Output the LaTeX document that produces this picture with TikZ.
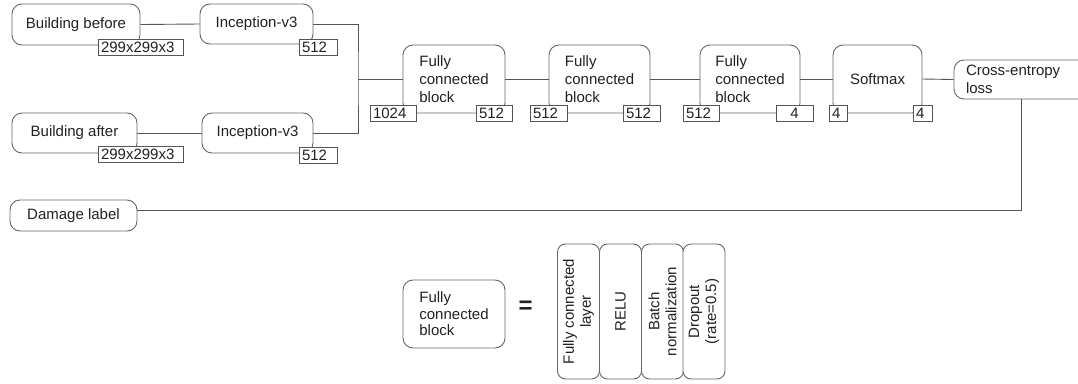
\documentclass[tikz,border=0pt]{standalone}
\usepackage{fontspec}
\setmainfont{Liberation Sans}
\definecolor{edge}{HTML}{666666}
\definecolor{wire}{HTML}{555555}
\definecolor{ink}{HTML}{222222}
\tikzset{
  blk/.style={draw=edge, line width=0.9pt, rounded corners=10pt, fill=white,
    text=ink, inner sep=0pt, font=\fontsize{15}{18}\selectfont, align=left},
  tag/.style={draw=wire, line width=0.9pt, fill=white, text=ink, inner xsep=3pt,
    inner ysep=0pt, minimum height=16pt, font=\fontsize{15}{16}\selectfont, align=left},
  vblk/.style={blk, rotate=90, rounded corners=8pt, minimum width=135pt,
    minimum height=42pt, align=center, font=\fontsize{15}{17}\selectfont},
  wire/.style={draw=wire, line width=0.9pt}
}
\begin{document}
\begin{tikzpicture}[x=1pt,y=-1pt]
\useasboundingbox (0,0) rectangle (1078,383);
\clip (0,0) rectangle (1078,383);

% image inputs and feature extractors
\node[blk, minimum width=128pt, minimum height=41pt] (bb) at (76,24.5) {Building before};
\node[blk, minimum width=113pt, minimum height=40pt] (ib) at (256.5,24) {Inception-v3};
\node[blk, minimum width=125pt, minimum height=40pt] (ba) at (74.5,133) {Building after};
\node[blk, minimum width=111pt, minimum height=40pt] (ia) at (257.5,133) {Inception-v3};

% classifier head
\node[blk, minimum width=102pt, minimum height=68pt] (fc1) at (454,79) {Fully\\connected\\block};
\node[blk, minimum width=101pt, minimum height=68pt] (fc2) at (599.5,79) {Fully\\connected\\block};
\node[blk, minimum width=100pt, minimum height=68pt] (fc3) at (750,79) {Fully\\connected\\block};
\node[blk, minimum width=89pt, minimum height=68pt] (sm) at (877.5,79) {Softmax};
\node[blk, minimum height=39pt, text width=110pt, inner xsep=12pt] (ce) at (1021,79.5) {Cross-entropy\\loss};
\node[blk, minimum width=127pt, minimum height=31pt] (dl) at (73.5,215.5) {Damage label};

% connectors
\coordinate (j) at (358,79);
\draw[wire] (bb.east) -- (ib.west);
\draw[wire] (ba.east) -- (ia.west);
\draw[wire] (ib.east) -| (j) |- (ia.east);
\draw[wire] (j) -- (fc1.west);
\draw[wire] (fc1.east) -- (fc2.west);
\draw[wire] (fc2.east) -- (fc3.west);
\draw[wire] (fc3.east) -- (sm.west);
\draw[wire] (sm.east) -- (ce.west);
\draw[wire] ([yshift=5pt]dl.east) -| (ce.south);

% tensor shapes
\node[tag, text width=79pt] (s1) at (140.5,47) {299x299x3};
\node[tag, text width=32pt] (s2) at (318,47) {512};
\node[tag, text width=79pt] (s3) at (140.5,154.5) {299x299x3};
\node[tag, text width=32pt] (s4) at (318,155.5) {512};
\node[tag, text width=40pt] (s5) at (393,113) {1024};
\node[tag, text width=30pt] (s6) at (494,113) {512};
\node[tag, text width=31pt] (s7) at (548.5,113) {512};
\node[tag, text width=31pt] (s8) at (641.5,113) {512};
\node[tag, text width=30pt] (s9) at (701,113) {512};
\node[tag, text width=31pt, align=center] (s10) at (794.5,113) {4};
\node[tag, text width=12pt] (s11) at (838,113) {4};
\node[tag, text width=13pt] (s12) at (922.5,113) {4};

% what a fully connected block contains
\node[blk, minimum width=102pt, minimum height=68pt, font=\fontsize{15}{16.5}\selectfont] (lg) at (454,314) {Fully\\connected\\block};
\node[text=ink, font=\bfseries\fontsize{24}{24}\selectfont, inner sep=0pt] (eq) at (525.5,307) {=};
\node[vblk] (v1) at (578.5,311.5) {Fully connected\\layer};
\node[vblk] (v2) at (620.5,311.5) {RELU};
\node[vblk] (v3) at (662.5,311.5) {Batch\\normalization};
\node[vblk] (v4) at (704,311.5) {Dropout\\(rate=0.5)};
\end{tikzpicture}
\end{document}
